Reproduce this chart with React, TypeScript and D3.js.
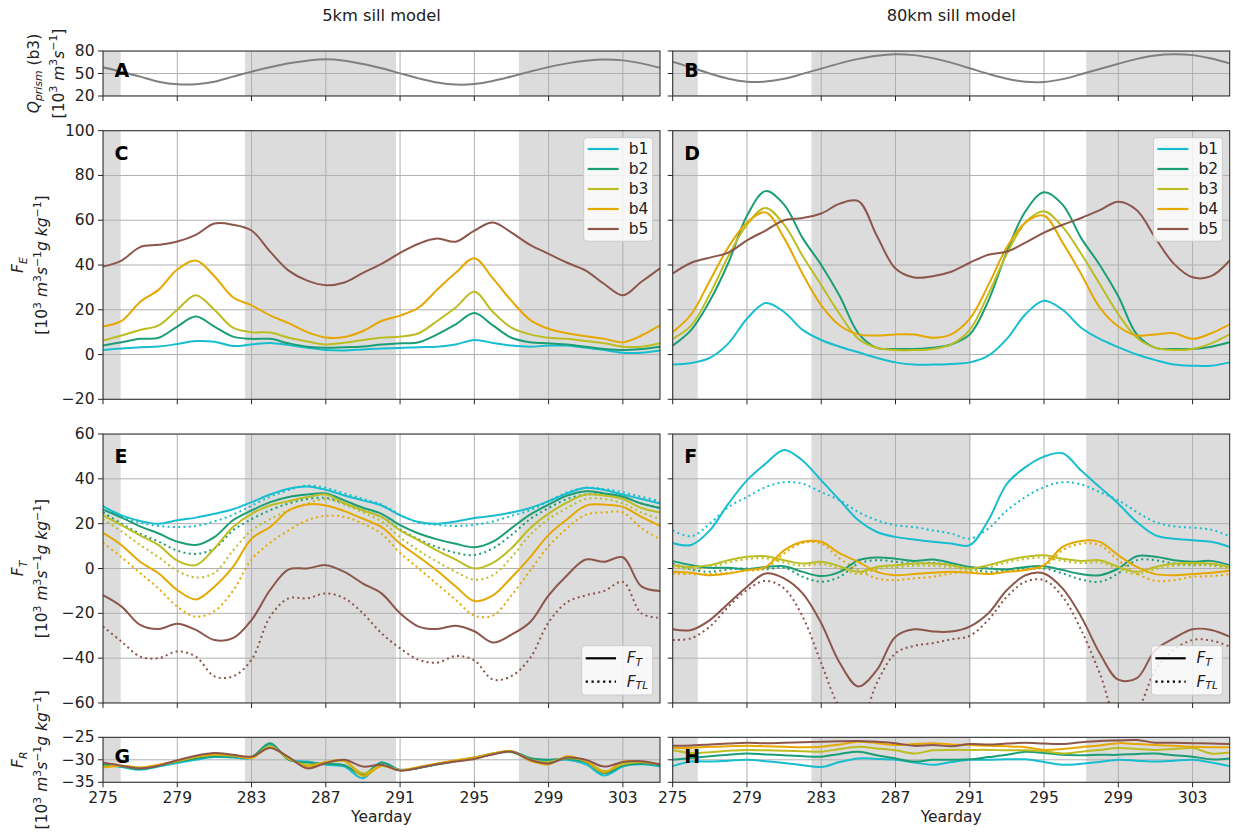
import React from 'react';
import * as d3 from 'd3';

// ---------------- DATA ----------------
const days = [275, 276, 277, 278, 279, 280, 281, 282, 283, 284, 285, 286, 287, 288, 289, 290,
  291, 292, 293, 294, 295, 296, 297, 298, 299, 300, 301, 302, 303, 304, 305];
const xTicks = [275, 279, 283, 287, 291, 295, 299, 303];
const bandNames = ['b1', 'b2', 'b3', 'b4', 'b5'];
const bandColors = ['#17becf', '#1b9e77', '#bcbd22', '#e6a800', '#8c564b'];

const shade5km = [[275, 275.95], [282.65, 290.78], [297.4, 305]];
const shade80km = [[275, 276.35], [282.47, 291.04], [297.27, 305]];

// Q_prism (b3)
const qPrism5km = [58.2, 52.4, 45.8, 39.1, 35.6, 35.6, 39, 45.8, 52.4, 58.2, 63.6, 67.1, 68.9, 67.1, 62.7, 56.9, 50.2, 43.5, 38, 35.2, 36, 40, 46, 52.5, 58.5, 63.5, 67, 68.7, 67.5, 63.5, 57.5];
const qPrism80km = [65.7, 58, 50, 43, 39, 39.2, 43, 49.5, 56.5, 63.5, 69.5, 73.8, 75.6, 74.5, 70.5, 64.5, 57, 49.5, 43, 39, 38.8, 42.5, 49, 56, 63, 69.5, 74, 75.6, 74.5, 70, 63.5];

// F_E 5 km
const fe5B1 = [2, 2.7, 3.3, 3.6, 4.7, 6, 5.7, 3.8, 4.5, 5.2, 4.2, 3, 2, 1.8, 2.3, 2.7, 2.9, 3.3, 3.5, 4.5, 6.5, 5.2, 4, 3.5, 4, 4, 3, 2, 0.8, 0.8, 1.8];
const fe5B2 = [4, 5.5, 7, 7.5, 12.5, 17, 12.5, 8, 7, 7, 5, 3.5, 3, 3.3, 3.6, 4.5, 5, 5.5, 9, 13.5, 18.5, 13, 7.5, 5.5, 5, 4.5, 3.5, 2.5, 2, 2.5, 3.5];
const fe5B3 = [6.3, 8.5, 11, 13, 20, 26.5, 20, 12, 10, 9.8, 7.5, 5.8, 4.5, 5.3, 6.5, 7.5, 8, 9.5, 15, 21, 28, 19, 12, 9, 7.5, 7, 6, 5, 3.5, 3.5, 5];
const fe5B4 = [12.5, 15, 23.5, 29, 38, 42, 35, 25.6, 22, 17.5, 14, 10, 7.6, 7.8, 10.5, 15, 17.4, 21, 29, 36.5, 43, 34, 24, 15.5, 11.5, 9.5, 8.2, 7, 5.5, 8.5, 13];
const fe5B5 = [39.3, 42, 48, 49, 50.5, 53.5, 58.5, 58, 55.4, 46, 37.5, 33, 31, 32.2, 36.5, 40.5, 45.4, 49.5, 51.8, 50.4, 55.4, 59, 54.5, 49, 45, 41, 37.5, 31.5, 26.5, 32.5, 38.5];

// F_E 80 km
const fe80B1 = [-4.5, -3.8, -1.5, 5, 16, 23, 19, 11, 6.5, 3.5, 1, -1.5, -3.5, -4.5, -4.5, -4.2, -3.5, -0.5, 7, 18, 24, 20, 12, 7, 3.3, 0, -2.5, -4.5, -5, -5, -3.5];
const fe80B2 = [4, 11, 24, 41, 62, 73, 67, 52, 40, 26, 9.5, 3, 2.5, 2.5, 3, 4.5, 9, 24, 46, 64, 72.5, 67, 52, 40, 26, 9, 3, 2.5, 2.5, 3.5, 5.5];
const fe80B3 = [7, 13, 27, 44, 58, 65.5, 58, 44, 31, 18, 7, 3, 2, 2, 2.5, 4.5, 11, 27, 45, 59, 64, 57, 45, 31.5, 18, 7.5, 3, 2, 2.5, 5, 9];
const fe80B4 = [10, 18, 33, 48, 59, 63.5, 52, 36, 22, 13, 9, 8.5, 9, 9, 7.5, 9, 16, 31, 48, 59, 62, 50, 36, 21, 12.5, 8.5, 9, 9.5, 7, 9.5, 13.5];
const fe80B5 = [36.2, 41, 43.3, 45.5, 51, 55.4, 60, 61, 63, 67.4, 68.5, 53, 38.4, 34.4, 35, 37, 41, 44.6, 46, 50, 54.5, 58, 61, 64.5, 68.3, 64.5, 52, 40.5, 34.5, 35, 42];

// F_T (solid) and F_TL (dotted) 5 km
const ft5B1 = [27.7, 23.7, 21.2, 20, 21.5, 22.7, 24.4, 26.4, 29.6, 33, 35.6, 36.6, 35.1, 32.6, 30.4, 28.1, 23.7, 20.7, 20, 21, 22.5, 23.5, 25, 27, 30, 33.5, 36, 35, 33, 31, 29];
const ftl5B1 = [28, 23, 20.5, 19, 18.5, 19, 21, 24, 28, 32, 35, 37, 36, 33.5, 31, 28.5, 24, 20.5, 19.5, 19, 19.5, 21, 23.5, 26, 30, 34, 36, 35.5, 34, 32, 30];
const ft5B2 = [26.2, 22.7, 18.8, 15.6, 12, 10.5, 14, 21.5, 25.9, 29.6, 31.9, 33, 33.5, 30.4, 27.1, 24.4, 19.3, 15.6, 13, 11, 9.5, 12, 18, 24, 28.5, 32.5, 34.5, 33.5, 32, 29, 27];
const ftl5B2 = [25, 20, 15.5, 12, 8, 6.5, 9, 17, 22, 26, 29, 31, 31.5, 29, 26, 23, 17.5, 13, 9.5, 7, 6, 9, 15, 22, 27, 31, 33, 33, 32, 29, 27];
const ft5B3 = [23.7, 19.3, 14.8, 10.4, 3.5, 1.5, 8.9, 18.5, 24.4, 28.1, 30, 31.9, 33, 29.2, 25.9, 23, 17, 12.6, 8, 4, 0, 2.5, 9, 18, 24.5, 29.5, 33, 32.5, 31, 27, 25];
const ftl5B3 = [22, 16.5, 10.5, 5, -1, -4, -2, 8, 17, 22, 26, 29, 31, 28.5, 25, 21, 14, 8, 3, -1.5, -5, -3, 5, 15, 22, 27, 31, 31, 29, 25, 22];
const ft5B4 = [15.9, 10.4, 3, -2.2, -9.6, -13.8, -8.1, 0.7, 13.3, 18.5, 25.9, 28.6, 28.1, 25.6, 22.2, 18.5, 11.1, 5.2, -1, -8, -14.5, -12, -4, 5, 15, 22, 28, 28.5, 27.5, 23, 19];
const ftl5B4 = [11.5, 5, -2, -9, -17, -21.5, -19, -10, 4, 11.5, 17, 21.5, 23.5, 23, 20, 15.5, 7, 0, -7, -14, -21, -21, -12, -1, 10, 18, 24, 25, 25, 18, 13];
const ft5B5 = [-11.9, -17, -25.2, -27, -24.7, -27.4, -31.9, -31.1, -23, -9.6, -0.4, 0, 1.5, -1.5, -6.7, -11.1, -20, -25.9, -27, -25.5, -28, -33, -29.5, -24, -12, -3, 4, 3, 5, -8, -10];
const ftl5B5 = [-25.9, -32.6, -39.3, -40, -37, -39.3, -48.1, -48.1, -40.7, -21.5, -13.3, -13.3, -11.1, -13.3, -20, -28.9, -35.6, -40.7, -42, -39, -41, -49.5, -48, -40, -24, -15, -12, -10, -6, -20, -22];

// F_T (solid) and F_TL (dotted) 80 km
const ft80B1 = [11.4, 10.5, 17, 28.9, 39.3, 46.7, 52.9, 48.1, 39.3, 30.4, 21.5, 16.3, 14.1, 12.9, 11.9, 11.1, 10.4, 21.5, 37.8, 45.2, 49.9, 51.4, 43.7, 36.3, 28.9, 20.7, 14.8, 13.3, 12.6, 11.9, 9.6];
const ftl80B1 = [17, 14.4, 20, 27.4, 31.9, 36.3, 38.5, 37.8, 34.1, 30.4, 25.2, 21.5, 19.3, 18.5, 17, 15.6, 13.3, 17.8, 25.9, 31.9, 36.3, 38.5, 37.5, 34.1, 30.4, 25.2, 20.7, 18.8, 18.2, 17.3, 14.4];
const ft80B2 = [3.3, 1.5, 0.3, 0.3, -0.4, 0.7, 1, -1.5, -3.4, -1.5, 3.7, 4.9, 4.4, 3.4, 4, 2.5, 0.7, 0, -0.4, 0.7, 1, -0.7, -2.5, -3, 0, 5.5, 5.2, 3.7, 3, 3.4, 1.5];
const ftl80B2 = [2.2, -0.4, -1.5, -0.4, 0, -0.4, 0.4, -3.7, -5.9, -3.7, 2.2, 3.7, 3, 2.2, 2.5, 1.5, 0, -1.5, -0.7, 0, 0, -2.2, -4.9, -5.9, -2.2, 3.7, 3.7, 2.2, 1.5, 1.9, 0.4];
const ft80B3 = [1.5, 0.7, 1.5, 3.7, 5.2, 5.5, 3.7, 2.2, 3, 1, -1.5, 0.7, 1.5, 2.2, 2.2, 1.5, 0, 1.5, 3.7, 5.2, 5.9, 4.4, 3.4, 3.7, 0.7, -1.5, 0.7, 2.2, 2.5, 2.2, 0.7];
const ftl80B3 = [0.5, -0.3, 0.5, 2.7, 4.2, 4.5, 2.7, 1.2, 2, 0, -2.5, -0.3, 0.5, 1.2, 1.2, 0.5, -1, 0.5, 2.7, 4.2, 4.9, 3.4, 2.4, 2.7, -0.3, -2.5, -0.3, 1.2, 1.5, 1.2, -0.3];
const ft80B4 = [-1.5, -1.9, -3, -2.2, -0.7, 0.7, 8.1, 11.9, 11.9, 6.7, 3, -1.5, -3, -2.5, -1.9, -1.5, -1.9, -2.5, -1.5, -0.7, 1.5, 9.6, 12.3, 11.9, 5.9, 0.7, -2.5, -3, -2.5, -1.9, -1];
const ftl80B4 = [-2.2, -2.5, -2.5, -1.9, -1, 0, 6.7, 11.4, 11.1, 4.4, -0.7, -4.4, -5.2, -4.4, -3.7, -2.2, -1.5, -2.2, -1.5, -0.4, 0.7, 8.1, 11.1, 10.4, 3.7, -2.2, -5.5, -5.2, -3.7, -3.4, -2.5];
const ft80B5 = [-27.1, -27.4, -23, -15.6, -8.1, -2.2, -4.4, -11.1, -24.4, -42.2, -52.6, -45.2, -30.4, -27.1, -28.1, -28.1, -25.9, -20, -9.6, -3, -2.2, -8.9, -21.5, -37.8, -49.6, -48.9, -36.3, -31.1, -27.1, -27.4, -30.4];
const ftl80B5 = [-31.9, -31.1, -25.9, -17, -9.6, -5.5, -8.9, -21.5, -42.2, -62, -70, -51, -37.8, -34.5, -33.3, -31.6, -30, -22.9, -12.6, -5.9, -5.2, -12.6, -27.4, -46.7, -67, -63, -45.2, -36.3, -31.9, -32.1, -34.8];

// F_R 5 km
const fr5B1 = [-31.1, -31.6, -32.2, -31.5, -30.7, -30, -29.4, -29.5, -29.6, -26.7, -29.9, -30.4, -31.1, -31.5, -34.1, -30.6, -32.2, -31.8, -31, -30.3, -29.6, -28.7, -28.3, -29.8, -30.2, -30, -31, -33.5, -31.5, -31, -31.5];
const fr5B2 = [-31, -31.5, -32, -31.3, -30.4, -29.7, -29.2, -29.3, -29.4, -26.3, -30, -30.6, -30.9, -31.2, -33.3, -30.6, -32.3, -31.8, -31, -30.2, -29.5, -28.6, -28.1, -29.6, -30, -29.8, -30.5, -33, -31.3, -30.8, -31.2];
const fr5B3 = [-31.5, -31.4, -31.8, -31.2, -30.3, -29.4, -28.9, -29.1, -29.5, -27, -29.8, -31.2, -30.6, -30.3, -33, -31.3, -32.3, -31.7, -30.9, -30.2, -29.6, -28.7, -28.2, -29.9, -30.5, -29.6, -30.2, -32.5, -31, -30.5, -31];
const fr5B4 = [-31.7, -31.3, -31.7, -31.1, -30.2, -29.3, -28.8, -29, -29.6, -27.3, -29.5, -31.5, -30.5, -30.2, -33.6, -31.4, -32.3, -31.6, -30.8, -30.1, -29.5, -28.6, -28.1, -30.2, -31, -29.2, -30.3, -32.8, -30.4, -30.5, -31];
const fr5B5 = [-30.6, -31.3, -31.9, -31.3, -30.1, -29.1, -28.5, -28.9, -29.3, -27.4, -29.4, -31.9, -30.7, -30, -31.5, -31.1, -32.4, -31.8, -31, -30.4, -29.8, -28.8, -28.2, -30, -30.8, -29.5, -30, -31.5, -30.5, -30.3, -31];

// F_R 80 km
const fr80B1 = [-31.4, -30.4, -30.4, -30.2, -30, -30.3, -30.7, -31.2, -31.6, -30.5, -29.7, -29.8, -30, -30.6, -31.1, -30.5, -30, -30, -29.9, -29.9, -30.5, -31.1, -30.9, -30.5, -30, -30.2, -30.4, -30.2, -30, -30.6, -31.4];
const fr80B2 = [-30, -29.6, -29.2, -28.9, -28.6, -28.8, -29, -29.2, -29.3, -28.7, -28.2, -29, -29.7, -30.4, -30, -30, -29.9, -29.4, -28.9, -28.2, -28.5, -28.9, -29, -28.9, -28.9, -28.7, -28.6, -29, -29.3, -29.9, -29.7];
const fr80B3 = [-27.9, -28.5, -28.3, -28, -27.8, -27.9, -28, -28.1, -28.2, -27.6, -27.1, -27.5, -27.9, -28.6, -27.9, -27.8, -27.8, -27.8, -27.9, -27.9, -28.1, -28.6, -28.2, -27.8, -27.4, -27.6, -27.8, -27.6, -27.4, -28.6, -28.4];
const fr80B4 = [-27.4, -27.3, -27.1, -27, -26.9, -27, -27.1, -27.2, -27.1, -26.6, -26, -26.3, -26.7, -26.5, -26.3, -26.6, -26.7, -26.9, -27, -27.2, -27.8, -27.6, -27.2, -26.8, -26.3, -26.5, -26.7, -26.9, -27.1, -27.2, -27.2];
const fr80B5 = [-26.9, -26.8, -26.6, -26.4, -26.2, -26.3, -26.2, -26.1, -26, -25.9, -25.8, -26, -26.3, -26.9, -26.7, -27, -26.5, -26.6, -26.4, -26.2, -26.4, -26.5, -26.1, -25.8, -25.7, -25.6, -26.2, -26.2, -26.3, -26.4, -26.5];

// ---------------- LAYOUT ----------------
const FONT = "'DejaVu Sans', 'Liberation Sans', sans-serif";
const FS = 15.5;
const COLS = [{ x0: 103, x1: 660 }, { x0: 672.7, x1: 1229.7 }];
const ROWS = [
  { top: 51, bottom: 96, domain: [20, 80], ticks: [20, 50, 80], small: true },
  { top: 130.7, bottom: 399.3, domain: [-20, 100], ticks: [-20, 0, 20, 40, 60, 80, 100], small: false },
  { top: 434, bottom: 703, domain: [-60, 60], ticks: [-60, -40, -20, 0, 20, 40, 60], small: false },
  { top: 737.3, bottom: 782.3, domain: [-35, -25], ticks: [-35, -30, -25], small: true },
];

type Seg = { t: string; it?: boolean; s?: 'sup' | 'sub' };
type Series = { values: number[]; color: string; dotted?: boolean; width?: number };

const fmt = (v: number) => (v < 0 ? '\u2212' + Math.abs(v) : String(v));

function Rich({ segs, size }: { segs: Seg[]; size: number }) {
  let cur = 0;
  return (
    <>
      {segs.map((sg, i) => {
        const target = sg.s === 'sup' ? -0.42 * size : sg.s === 'sub' ? 0.24 * size : 0;
        const dy = target - cur;
        cur = target;
        return (
          <tspan key={i} dy={dy} fontSize={sg.s ? size * 0.7 : size} fontStyle={sg.it ? 'italic' : 'normal'}>
            {sg.t}
          </tspan>
        );
      })}
    </>
  );
}

const unitFlux: Seg[] = [
  { t: '[10' }, { t: '3', s: 'sup' }, { t: ' ' }, { t: 'm', it: true }, { t: '3', s: 'sup' },
  { t: 's', it: true }, { t: '\u22121', s: 'sup' }, { t: 'g kg', it: true }, { t: '\u22121', s: 'sup' }, { t: ']' },
];
const unitQ: Seg[] = [
  { t: '[10' }, { t: '3', s: 'sup' }, { t: ' ' }, { t: 'm', it: true }, { t: '3', s: 'sup' },
  { t: 's', it: true }, { t: '\u22121', s: 'sup' }, { t: ']' },
];
const yLabels: { l1: Seg[]; l2: Seg[]; x1: number; x2: number }[] = [
  { l1: [{ t: 'Q', it: true }, { t: 'prism', it: true, s: 'sub' }, { t: ' (b3)' }], l2: unitQ, x1: 38.5, x2: 63.5 },
  { l1: [{ t: 'F', it: true }, { t: 'E', it: true, s: 'sub' }], l2: unitFlux, x1: 23, x2: 47 },
  { l1: [{ t: 'F', it: true }, { t: 'T', it: true, s: 'sub' }], l2: unitFlux, x1: 23, x2: 47 },
  { l1: [{ t: 'F', it: true }, { t: 'R', it: true, s: 'sub' }], l2: unitFlux, x1: 23, x2: 47 },
];

function Panel(props: {
  id: string; ci: number; ri: number; series: Series[]; shades: number[][]; letter: string;
  legend?: 'bands' | 'flux';
}) {
  const { id, ci, ri, series, shades, letter, legend } = props;
  const col = COLS[ci];
  const row = ROWS[ri];
  const x = d3.scaleLinear().domain([275, 305]).range([col.x0, col.x1]);
  const y = d3.scaleLinear().domain(row.domain).range([row.bottom, row.top]);
  const line = d3.line<number>()
    .x((_, i) => x(days[i]))
    .y((v) => y(v))
    .curve(d3.curveCatmullRom.alpha(0.5));
  const w = col.x1 - col.x0;
  const h = row.bottom - row.top;
  const showX = ri === 3;
  const showY = ci === 0;
  const letterY = row.small ? row.top + 25.5 : row.top + 29;

  let legendEl: React.ReactNode = null;
  if (legend === 'bands') {
    const bx = col.x1 - 7.3 - 69;
    const by = row.top + 7;
    legendEl = (
      <g>
        <rect x={bx} y={by} width={69} height={103.5} rx={3} fill="#ffffff" fillOpacity={0.8} stroke="#cccccc" strokeWidth={1} />
        {bandNames.map((n, i) => (
          <g key={n}>
            <line x1={bx + 4} x2={bx + 35} y1={by + 11.3 + i * 20} y2={by + 11.3 + i * 20} stroke={bandColors[i]} strokeWidth={2.2} />
            <text x={bx + 45} y={by + 11.3 + i * 20} dominantBaseline="central" fontSize={FS} fill="#222">{n}</text>
          </g>
        ))}
      </g>
    );
  } else if (legend === 'flux') {
    const bx = col.x1 - 7.3 - 71;
    const by = row.bottom - 8 - 49.3;
    legendEl = (
      <g>
        <rect x={bx} y={by} width={71} height={49.3} rx={3} fill="#ffffff" fillOpacity={0.8} stroke="#cccccc" strokeWidth={1} />
        <line x1={bx + 4} x2={bx + 34.3} y1={by + 12.6} y2={by + 12.6} stroke="#000" strokeWidth={2.2} />
        <line x1={bx + 4} x2={bx + 34.3} y1={by + 36} y2={by + 36} stroke="#000" strokeWidth={2.2} strokeDasharray="2.2,3.6" />
        <text x={bx + 45} y={by + 12.6} dominantBaseline="central" fontSize={FS} fill="#222">
          <Rich segs={[{ t: 'F', it: true }, { t: 'T', it: true, s: 'sub' }]} size={FS} />
        </text>
        <text x={bx + 45} y={by + 36} dominantBaseline="central" fontSize={FS} fill="#222">
          <Rich segs={[{ t: 'F', it: true }, { t: 'TL', it: true, s: 'sub' }]} size={FS} />
        </text>
      </g>
    );
  }

  return (
    <g>
      <defs>
        <clipPath id={`clip-${id}`}>
          <rect x={col.x0} y={row.top} width={w} height={h} />
        </clipPath>
      </defs>
      <g clipPath={`url(#clip-${id})`}>
        {shades.map(([a, b], i) => (
          <rect key={i} x={x(a)} y={row.top} width={x(b) - x(a)} height={h} fill="#dcdcdc" />
        ))}
        {xTicks.map((t) => (
          <line key={'gx' + t} x1={x(t)} x2={x(t)} y1={row.top} y2={row.bottom} stroke="#b0b0b0" strokeWidth={1} />
        ))}
        {row.ticks.map((t) => (
          <line key={'gy' + t} x1={col.x0} x2={col.x1} y1={y(t)} y2={y(t)} stroke="#b0b0b0" strokeWidth={1} />
        ))}
        {series.map((s, i) => (
          <path key={i} d={line(s.values) || ''} fill="none" stroke={s.color} strokeWidth={s.width ?? 2}
            strokeDasharray={s.dotted ? '2,3.3' : undefined} strokeLinejoin="round" />
        ))}
      </g>
      <rect x={col.x0} y={row.top} width={w} height={h} fill="none" stroke="#262626" strokeWidth={1} />
      {xTicks.map((t) => (
        <line key={'tx' + t} x1={x(t)} x2={x(t)} y1={row.bottom} y2={row.bottom + 5} stroke="#262626" strokeWidth={1} />
      ))}
      {row.ticks.map((t) => (
        <line key={'ty' + t} x1={col.x0 - 5} x2={col.x0} y1={y(t)} y2={y(t)} stroke="#262626" strokeWidth={1} />
      ))}
      {showY && row.ticks.map((t) => (
        <text key={'ly' + t} x={col.x0 - 8.5} y={y(t)} textAnchor="end" dominantBaseline="central" fontSize={FS} fill="#222">{fmt(t)}</text>
      ))}
      {showX && xTicks.map((t) => (
        <text key={'lx' + t} x={x(t)} y={803} textAnchor="middle" fontSize={FS} fill="#222">{t}</text>
      ))}
      <text x={col.x0 + 11.5} y={letterY} fontSize={19} fontWeight="bold" fill="#000">{letter}</text>
      {legendEl}
    </g>
  );
}

const band = (vals: number[][], dotted = false): Series[] =>
  vals.map((v, i) => ({ values: v, color: bandColors[i], dotted }));

export default function App() {
  const rowCenters = ROWS.map((r) => (r.top + r.bottom) / 2);
  return (
    <svg width={1233} height={839} style={{ position: 'absolute', left: 0, top: 0, background: '#fff' }}
      fontFamily={FONT}>
      <rect x={0} y={0} width={1233} height={839} fill="#ffffff" />
      <text x={(COLS[0].x0 + COLS[0].x1) / 2} y={20.5} textAnchor="middle" fontSize={16.3} fill="#222">5km sill model</text>
      <text x={(COLS[1].x0 + COLS[1].x1) / 2} y={20.5} textAnchor="middle" fontSize={16.3} fill="#222">80km sill model</text>

      <Panel id="A" ci={0} ri={0} letter="A" shades={shade5km}
        series={[{ values: qPrism5km, color: '#808080', width: 2 }]} />
      <Panel id="B" ci={1} ri={0} letter="B" shades={shade80km}
        series={[{ values: qPrism80km, color: '#808080', width: 2 }]} />
      <Panel id="C" ci={0} ri={1} letter="C" shades={shade5km} legend="bands"
        series={band([fe5B1, fe5B2, fe5B3, fe5B4, fe5B5])} />
      <Panel id="D" ci={1} ri={1} letter="D" shades={shade80km} legend="bands"
        series={band([fe80B1, fe80B2, fe80B3, fe80B4, fe80B5])} />
      <Panel id="E" ci={0} ri={2} letter="E" shades={shade5km} legend="flux"
        series={[...band([ftl5B1, ftl5B2, ftl5B3, ftl5B4, ftl5B5], true), ...band([ft5B1, ft5B2, ft5B3, ft5B4, ft5B5])]} />
      <Panel id="F" ci={1} ri={2} letter="F" shades={shade80km} legend="flux"
        series={[...band([ftl80B1, ftl80B2, ftl80B3, ftl80B4, ftl80B5], true), ...band([ft80B1, ft80B2, ft80B3, ft80B4, ft80B5])]} />
      <Panel id="G" ci={0} ri={3} letter="G" shades={shade5km}
        series={band([fr5B1, fr5B2, fr5B3, fr5B4, fr5B5])} />
      <Panel id="H" ci={1} ri={3} letter="H" shades={shade80km}
        series={band([fr80B1, fr80B2, fr80B3, fr80B4, fr80B5])} />

      {yLabels.map((lab, i) => (
        <g key={i}>
          <text transform={`translate(${lab.x1},${rowCenters[i]}) rotate(-90)`} textAnchor="middle" fontSize={FS} fill="#222"
            style={{ whiteSpace: 'pre' }}>
            <Rich segs={lab.l1} size={FS} />
          </text>
          <text transform={`translate(${lab.x2},${rowCenters[i]}) rotate(-90)`} textAnchor="middle" fontSize={FS} fill="#222"
            style={{ whiteSpace: 'pre' }}>
            <Rich segs={lab.l2} size={FS} />
          </text>
        </g>
      ))}

      <text x={(COLS[0].x0 + COLS[0].x1) / 2} y={822} textAnchor="middle" fontSize={FS} fill="#222">Yearday</text>
      <text x={(COLS[1].x0 + COLS[1].x1) / 2} y={822} textAnchor="middle" fontSize={FS} fill="#222">Yearday</text>
    </svg>
  );
}
